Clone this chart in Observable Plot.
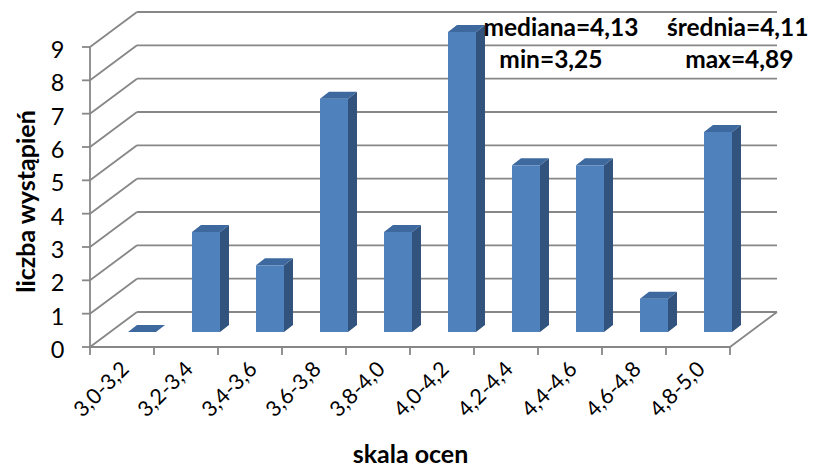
<!DOCTYPE html>
<html><head><meta charset="utf-8">
<script src="https://cdn.jsdelivr.net/npm/d3@7"></script>
<script src="https://cdn.jsdelivr.net/npm/@observablehq/plot@0.6"></script>
<style>body{margin:0;background:#fff}</style>
</head><body><div id="chart"></div>
<script>
const categories = ["3,0-3,2","3,2-3,4","3,4-3,6","3,6-3,8","3,8-4,0","4,0-4,2","4,2-4,4","4,4-4,6","4,6-4,8","4,8-5,0"];
const counts = [0, 3, 2, 7, 3, 9, 5, 5, 1, 6];
const yTicks = [0, 1, 2, 3, 4, 5, 6, 7, 8, 9];
const statNames = ["mediana", "średnia", "min", "max"];
const statValues = ["4,13", "4,11", "3,25", "4,89"];
const xTitle = "skala ocen";
const yTitle = "liczba wystąpień";

const data = categories.map((c, i) => ({cat: c, n: counts[i]}));

// 3D look (pixel offsets)
const WALL_DX = 47, WALL_DY = -35;
const BAR_DX = 20, BAR_DY = -15;
const SIDE_DX = 9, SIDE_DY = -7;
const INSET = 18;
const GRID = "#878787";
const FRONT = "#4F81BD", SIDE = "#31537E", TOP = "#3D699F";

function bandInfo(x) {
  const bw = x.bandwidth ? x.bandwidth() : (x(categories[1]) - x(categories[0]));
  const left = x(categories[0]);
  const right = x(categories[categories.length - 1]) + bw;
  return {bw, left, right};
}

function wallGrid(index, scales) {
  const x = scales.x, y = scales.y;
  const {bw, left, right} = bandInfo(x);
  const g = d3.create("svg:g").attr("stroke", GRID).attr("stroke-width", 1.8).attr("fill", "none");
  const line = (x1, y1, x2, y2) => g.append("line").attr("x1", x1).attr("y1", y1).attr("x2", x2).attr("y2", y2);
  for (const k of yTicks) {
    line(left + WALL_DX, y(k) + WALL_DY, right + WALL_DX, y(k) + WALL_DY);
    line(left, y(k), left + WALL_DX, y(k) + WALL_DY);
    line(left - 8, y(k), left, y(k));
  }
  line(right, y(0), right + WALL_DX, y(0) + WALL_DY);
  line(left, y(0), left, y(yTicks[yTicks.length - 1]));
  line(left, y(0), right, y(0));
  for (let i = 0; i <= categories.length; i++) {
    const bx = left + i * bw;
    line(bx, y(0), bx, y(0) + 8);
  }
  return g.node();
}

function barFaces(index, scales) {
  const x = scales.x, y = scales.y;
  const {bw} = bandInfo(x);
  const g = d3.create("svg:g");
  data.forEach(d => {
    const xl = x(d.cat) + INSET + BAR_DX, xr = x(d.cat) + bw - INSET + BAR_DX;
    const yb = y(0) + BAR_DY, yt = y(d.n) + BAR_DY;
    if (d.n > 0) {
      g.append("polygon").attr("fill", SIDE)
        .attr("points", [[xr, yb], [xr + SIDE_DX, yb + SIDE_DY], [xr + SIDE_DX, yt + SIDE_DY], [xr, yt]].join(" "));
    }
    g.append("polygon").attr("fill", TOP)
      .attr("points", [[xl, yt], [xr, yt], [xr + SIDE_DX, yt + SIDE_DY], [xl + SIDE_DX, yt + SIDE_DY]].join(" "));
  });
  return g.node();
}

const statText = (i, dx, dy) => Plot.text([statNames[i] + "=" + statValues[i]], {
  frameAnchor: "top-right", textAnchor: "end", lineAnchor: "bottom",
  dx, dy, fontSize: 24.5, fontWeight: "bold", fill: "black"
});

const chart = Plot.plot({
  width: 815,
  height: 470,
  marginLeft: 90,
  marginRight: 85,
  marginTop: 47,
  marginBottom: 123,
  style: {fontFamily: "Lato, 'Open Sans', sans-serif", color: "black", background: "white", overflow: "visible"},
  x: {domain: categories, padding: 0, label: null},
  y: {domain: [0, 9], label: null},
  marks: [
    wallGrid,
    Plot.barY(data, {x: "cat", y: "n", dx: BAR_DX, dy: BAR_DY, insetLeft: INSET, insetRight: INSET, fill: FRONT}),
    barFaces,
    Plot.axisY({ticks: yTicks, tickSize: 0, tickPadding: 26, fontSize: 23.5, label: null, dy: 3}),
    Plot.axisX({tickSize: 0, tickRotate: -45, tickPadding: 18, fontSize: 21.5, label: null, dx: 3}),
    Plot.text([yTitle], {frameAnchor: "left", textAnchor: "middle", rotate: -90, dx: -64, dy: 4, fontSize: 25, fontWeight: "bold", fill: "black"}),
    Plot.text([xTitle], {frameAnchor: "bottom", textAnchor: "middle", lineAnchor: "bottom", dy: 115, fontSize: 25, fontWeight: "bold", fill: "black"}),
    statText(0, -92, -12),
    statText(1, 78, -12),
    statText(2, -128, 20),
    statText(3, 63, 20)
  ]
});
document.getElementById("chart").appendChild(chart);
</script>
</body></html>
